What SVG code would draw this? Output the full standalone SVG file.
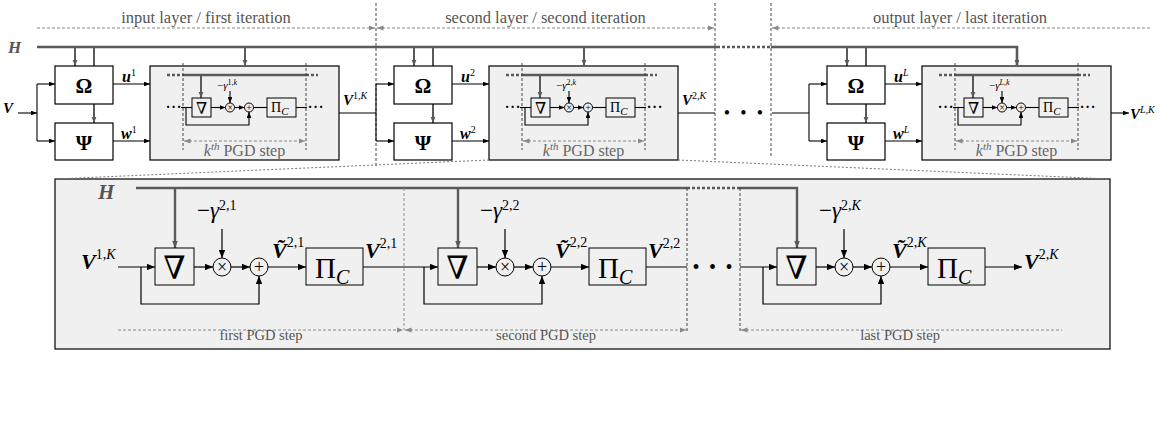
<svg xmlns="http://www.w3.org/2000/svg" width="1170" height="428" viewBox="0 0 1170 428">
<style>
.t{font-family:"Liberation Serif","DejaVu Serif",serif;fill:#000}
.g{fill:#555}
.gl{fill:#666}
.bi{font-weight:bold;font-style:italic}
.i{font-style:italic}
.n{font-weight:normal;font-style:normal}
.sym{font-family:"DejaVu Serif","Liberation Serif",serif;fill:#000}
.box{fill:#fff;stroke:#000;stroke-width:1.2}
.gb{fill:#f0f0f0;stroke:#000;stroke-width:1.2}
.ib{fill:#f0f0f0;stroke:#000;stroke-width:1}
.l{fill:none;stroke:#000;stroke-width:1.1}
.a{fill:none;stroke:#000;stroke-width:1.1;marker-end:url(#ah)}
.ab{fill:none;stroke:#000;stroke-width:1.2;marker-end:url(#ahb)}
.h{fill:none;stroke:#5a5a5a;stroke-width:2.6}
.hd{fill:none;stroke:#5a5a5a;stroke-width:2.6;stroke-dasharray:3 2}
.ha{fill:none;stroke:#5a5a5a;stroke-width:2;marker-end:url(#ahg)}
.hab{fill:none;stroke:#5a5a5a;stroke-width:2.4;marker-end:url(#ahgb)}
.hl{fill:none;stroke:#5a5a5a;stroke-width:2}
.dv{fill:none;stroke:#333;stroke-width:0.9;stroke-dasharray:3 2}
.dl{fill:none;stroke:#888;stroke-width:0.9;stroke-dasharray:3 2}
.da{fill:none;stroke:#888;stroke-width:1;stroke-dasharray:3 2}
.de{marker-end:url(#ahl)}
.ds{marker-start:url(#ahl)}
.dot{fill:none;stroke:#777;stroke-width:1;stroke-dasharray:2 2}
</style>
<defs>
<marker id="ah" viewBox="0 0 10 8" refX="10" refY="4" markerWidth="6" markerHeight="4.8" markerUnits="userSpaceOnUse" orient="auto-start-reverse"><path d="M0,0L10,4L0,8z" fill="#000"/></marker>
<marker id="ahb" viewBox="0 0 10 8" refX="10" refY="4" markerWidth="8" markerHeight="6.4" markerUnits="userSpaceOnUse" orient="auto-start-reverse"><path d="M0,0L10,4L0,8z" fill="#000"/></marker>
<marker id="ahg" viewBox="0 0 10 8" refX="10" refY="4" markerWidth="6.5" markerHeight="5.2" markerUnits="userSpaceOnUse" orient="auto-start-reverse"><path d="M0,0L10,4L0,8z" fill="#5a5a5a"/></marker>
<marker id="ahgb" viewBox="0 0 10 8" refX="10" refY="4" markerWidth="7" markerHeight="5.6" markerUnits="userSpaceOnUse" orient="auto-start-reverse"><path d="M0,0L10,4L0,8z" fill="#5a5a5a"/></marker>
<marker id="ahl" viewBox="0 0 10 8" refX="10" refY="4" markerWidth="6.5" markerHeight="5.2" markerUnits="userSpaceOnUse" orient="auto-start-reverse"><path d="M0,0L10,4L0,8z" fill="#888"/></marker>
</defs>

<g id="titles">
<text class="t g" x="206" y="23" font-size="16.5" text-anchor="middle">input layer / first iteration</text>
<text class="t g" x="545.5" y="23" font-size="16.5" text-anchor="middle">second layer / second iteration</text>
<text class="t g" x="960" y="23" font-size="16.5" text-anchor="middle">output layer / last iteration</text>
</g>

<g id="pgd1"><rect class="gb" x="150" y="66" width="189" height="94"/></g>
<g id="pgd2"><rect class="gb" x="489" y="66" width="189" height="94"/></g>
<g id="pgd3"><rect class="gb" x="922" y="66" width="189" height="94"/></g>
<g id="zoom-box"><rect class="gb" x="55" y="179" width="1055" height="170"/></g>

<g id="connectors">
<path class="dv" d="M376,3V166"/>
<path class="dv" d="M715,3V160"/>
<path class="dv" d="M771,3V158"/>
<path class="da de" d="M37,28H375"/>
<path class="da ds de" d="M377,28H714"/>
<path class="da ds" d="M772,28H1150"/>
<path class="h" d="M37,47H717"/>
<path class="hd" d="M717,47H771"/>
<path class="ha" style="stroke-width:2.6" d="M771,47H1017V66"/>
<path class="a" d="M18,113H37"/>
<path class="l" d="M37,84V141"/>
<path class="a" d="M37,84H55"/>
<path class="a" d="M37,141H55"/>
<path class="a" d="M113,84H150"/>
<path class="a" d="M113,141H150"/>
<path class="ha" d="M75,47V66"/>
<path class="hl" d="M94,47V66"/>
<path class="ha" d="M94,104V123"/>
<path class="ha" d="M245,47V66"/>
<path class="l" d="M181,107.5H192"/>
<path class="a" d="M186,107.5V125H249V112"/>
<path class="a" d="M211,107.5H225.5"/>
<path class="a" d="M230,91V103"/>
<path class="a" d="M234.5,107.5H244.5"/>
<path class="l" d="M253.5,107.5H267"/>
<path class="l" d="M296,107.5H307"/>
<path class="h" style="stroke-width:2.4" d="M183,75H306"/>
<path class="hd" style="stroke-width:2.4" d="M167,75H183M306,75H318"/>
<path class="ha" d="M201,75V98"/>
<path class="dv" d="M183,63V150M306,63V150"/>
<path class="da ds de" d="M184,141H305"/>
<path class="l" d="M339,113H376"/>
<path class="l" d="M376,84V141"/>
<path class="a" d="M376,84H394"/>
<path class="a" d="M376,141H394"/>
<path class="a" d="M452,84H489"/>
<path class="a" d="M452,141H489"/>
<path class="ha" d="M414,47V66"/>
<path class="hl" d="M433,47V66"/>
<path class="ha" d="M433,104V123"/>
<path class="ha" d="M584,47V66"/>
<path class="l" d="M520,107.5H531"/>
<path class="a" d="M525,107.5V125H588V112"/>
<path class="a" d="M550,107.5H564.5"/>
<path class="a" d="M569,91V103"/>
<path class="a" d="M573.5,107.5H583.5"/>
<path class="l" d="M592.5,107.5H606"/>
<path class="l" d="M635,107.5H646"/>
<path class="h" style="stroke-width:2.4" d="M522,75H645"/>
<path class="hd" style="stroke-width:2.4" d="M506,75H522M645,75H657"/>
<path class="ha" d="M540,75V98"/>
<path class="dv" d="M522,63V150M645,63V150"/>
<path class="da ds de" d="M523,141H644"/>
<path class="l" d="M678,113H715"/>
<path class="l" d="M772,113H809"/>
<path class="l" d="M809,84V141"/>
<path class="a" d="M809,84H827"/>
<path class="a" d="M809,141H827"/>
<path class="a" d="M885,84H922"/>
<path class="a" d="M885,141H922"/>
<path class="ha" d="M847,47V66"/>
<path class="hl" d="M866,47V66"/>
<path class="ha" d="M866,104V123"/>
<path class="l" d="M953,107.5H964"/>
<path class="a" d="M958,107.5V125H1021V112"/>
<path class="a" d="M983,107.5H997.5"/>
<path class="a" d="M1002,91V103"/>
<path class="a" d="M1006.5,107.5H1016.5"/>
<path class="l" d="M1025.5,107.5H1039"/>
<path class="l" d="M1068,107.5H1079"/>
<path class="h" style="stroke-width:2.4" d="M955,75H1078"/>
<path class="hd" style="stroke-width:2.4" d="M939,75H955M1078,75H1090"/>
<path class="ha" d="M973,75V98"/>
<path class="dv" d="M955,63V150M1078,63V150"/>
<path class="da ds de" d="M956,141H1077"/>
<path class="a" d="M1111,113H1129"/>
<path class="dot" d="M489,160L55,179"/>
<path class="dot" d="M678,160L1110,179"/>
<path class="h" d="M136,188H687"/>
<path class="hd" d="M687,188H740"/>
<path class="hab" d="M740,188H797V248"/>
<path class="hab" d="M175,188V248"/>
<path class="hab" d="M458,188V248"/>
<path class="dl" d="M404,188V330"/>
<path class="dv" d="M687,188V332"/>
<path class="dv" d="M740,188V332"/>
<path class="da de" d="M118,330H403"/>
<path class="da ds de" d="M405,330H686"/>
<path class="da ds" d="M741,330H1062"/>
<path class="ab" d="M118,267H155"/>
<path class="ab" d="M141,267V304H259V276"/>
<path class="ab" d="M194,267H213"/>
<path class="ab" d="M222,229V258"/>
<path class="ab" d="M231,267H250"/>
<path class="ab" d="M268,267H306"/>
<path class="ab" d="M363,267H438"/>
<path class="ab" d="M424,267V304H542V276"/>
<path class="ab" d="M477,267H496"/>
<path class="ab" d="M505,229V258"/>
<path class="ab" d="M514,267H533"/>
<path class="ab" d="M551,267H589"/>
<path class="l" style="stroke-width:1.2" d="M646,267H687"/>
<path class="ab" d="M740,267H777"/>
<path class="ab" d="M763,267V304H881V276"/>
<path class="ab" d="M816,267H835"/>
<path class="ab" d="M844,229V258"/>
<path class="ab" d="M853,267H872"/>
<path class="ab" d="M890,267H928"/>
<path class="ab" d="M985,267H1022"/>
</g>

<g id="label-H"><text class="t bi g" x="8" y="53" font-size="17">H</text></g>
<g id="label-V"><text class="t bi" x="3" y="113" font-size="15">V</text></g>

<g id="omega1"><rect class="box" x="55" y="66" width="58" height="38"/><text class="t" x="84" y="93" font-size="21" font-weight="bold" text-anchor="middle">Ω</text></g>
<g id="psi1"><rect class="box" x="55" y="123" width="58" height="37"/><text class="t" x="84" y="150" font-size="21" font-weight="bold" text-anchor="middle">Ψ</text></g>
<g id="u1"><text class="t bi" x="122" y="82" font-size="16">u<tspan class="n" font-size="10" dy="-6">1</tspan></text></g>
<g id="w1"><text class="t bi" x="121" y="139" font-size="16">w<tspan class="n" font-size="10" dy="-6">1</tspan></text></g>
<g id="grad1"><rect class="ib" x="192" y="98" width="19" height="19"/><text class="sym" x="201.5" y="114" font-size="16" text-anchor="middle">∇</text></g>
<g id="mul1"><circle class="ib" cx="230" cy="107.5" r="4.5"/><text class="t" x="230" y="107.5" font-size="10" text-anchor="middle" dominant-baseline="central">×</text></g>
<g id="add1"><circle class="ib" cx="249" cy="107.5" r="4.5"/><text class="t" x="249" y="107.5" font-size="10" text-anchor="middle" dominant-baseline="central">+</text></g>
<g id="proj1"><rect class="ib" x="267" y="98" width="29" height="19"/><text class="t" x="271" y="112" font-size="14">Π<tspan class="i" font-size="11" dy="3">C</tspan></text></g>
<g id="gamma1"><text class="t" x="217" y="89" font-size="11">−<tspan class="i">γ</tspan><tspan font-size="8" dy="-4">1,<tspan class="i">k</tspan></tspan></text></g>
<g id="dots1"><text class="t" x="168 173.5 179" y="111.5" font-size="14" font-weight="bold" text-anchor="middle">···</text><text class="t" x="310 315.5 321" y="111.5" font-size="14" font-weight="bold" text-anchor="middle">···</text></g>
<g id="kth1"><text class="t gl" x="244.5" y="156" font-size="16" text-anchor="middle"><tspan class="i">k</tspan><tspan class="i" font-size="11" dy="-6">th</tspan><tspan dy="6"> PGD step</tspan></text></g>
<g id="v1K"><text class="t bi" x="343" y="105" font-size="15">V<tspan class="n" font-size="10" dy="-6">1,<tspan class="i">K</tspan></tspan></text></g>

<g id="omega2"><rect class="box" x="394" y="66" width="58" height="38"/><text class="t" x="423" y="93" font-size="21" font-weight="bold" text-anchor="middle">Ω</text></g>
<g id="psi2"><rect class="box" x="394" y="123" width="58" height="37"/><text class="t" x="423" y="150" font-size="21" font-weight="bold" text-anchor="middle">Ψ</text></g>
<g id="u2"><text class="t bi" x="461" y="82" font-size="16">u<tspan class="n" font-size="10" dy="-6">2</tspan></text></g>
<g id="w2"><text class="t bi" x="460" y="139" font-size="16">w<tspan class="n" font-size="10" dy="-6">2</tspan></text></g>
<g id="grad2"><rect class="ib" x="531" y="98" width="19" height="19"/><text class="sym" x="540.5" y="114" font-size="16" text-anchor="middle">∇</text></g>
<g id="mul2"><circle class="ib" cx="569" cy="107.5" r="4.5"/><text class="t" x="569" y="107.5" font-size="10" text-anchor="middle" dominant-baseline="central">×</text></g>
<g id="add2"><circle class="ib" cx="588" cy="107.5" r="4.5"/><text class="t" x="588" y="107.5" font-size="10" text-anchor="middle" dominant-baseline="central">+</text></g>
<g id="proj2"><rect class="ib" x="606" y="98" width="29" height="19"/><text class="t" x="610" y="112" font-size="14">Π<tspan class="i" font-size="11" dy="3">C</tspan></text></g>
<g id="gamma2"><text class="t" x="556" y="89" font-size="11">−<tspan class="i">γ</tspan><tspan font-size="8" dy="-4">2,<tspan class="i">k</tspan></tspan></text></g>
<g id="dots2"><text class="t" x="507 512.5 518" y="111.5" font-size="14" font-weight="bold" text-anchor="middle">···</text><text class="t" x="649 654.5 660" y="111.5" font-size="14" font-weight="bold" text-anchor="middle">···</text></g>
<g id="kth2"><text class="t gl" x="583.5" y="156" font-size="16" text-anchor="middle"><tspan class="i">k</tspan><tspan class="i" font-size="11" dy="-6">th</tspan><tspan dy="6"> PGD step</tspan></text></g>
<g id="v2K"><text class="t bi" x="682" y="105" font-size="15">V<tspan class="n" font-size="10" dy="-6">2,<tspan class="i">K</tspan></tspan></text></g>
<g id="layer-dots"><text class="t" x="727 743.5 760" y="119" font-size="18" text-anchor="middle">•••</text></g>

<g id="omega3"><rect class="box" x="827" y="66" width="58" height="38"/><text class="t" x="856" y="93" font-size="21" font-weight="bold" text-anchor="middle">Ω</text></g>
<g id="psi3"><rect class="box" x="827" y="123" width="58" height="37"/><text class="t" x="856" y="150" font-size="21" font-weight="bold" text-anchor="middle">Ψ</text></g>
<g id="u3"><text class="t bi" x="894" y="82" font-size="16">u<tspan font-size="10" font-weight="normal" dy="-6">L</tspan></text></g>
<g id="w3"><text class="t bi" x="893" y="139" font-size="16">w<tspan font-size="10" font-weight="normal" dy="-6">L</tspan></text></g>
<g id="grad3"><rect class="ib" x="964" y="98" width="19" height="19"/><text class="sym" x="973.5" y="114" font-size="16" text-anchor="middle">∇</text></g>
<g id="mul3"><circle class="ib" cx="1002" cy="107.5" r="4.5"/><text class="t" x="1002" y="107.5" font-size="10" text-anchor="middle" dominant-baseline="central">×</text></g>
<g id="add3"><circle class="ib" cx="1021" cy="107.5" r="4.5"/><text class="t" x="1021" y="107.5" font-size="10" text-anchor="middle" dominant-baseline="central">+</text></g>
<g id="proj3"><rect class="ib" x="1039" y="98" width="29" height="19"/><text class="t" x="1043" y="112" font-size="14">Π<tspan class="i" font-size="11" dy="3">C</tspan></text></g>
<g id="gamma3"><text class="t" x="989" y="89" font-size="11">−<tspan class="i">γ</tspan><tspan font-size="8" dy="-4"><tspan class="i">L</tspan>,<tspan class="i">k</tspan></tspan></text></g>
<g id="dots3"><text class="t" x="940 945.5 951" y="111.5" font-size="14" font-weight="bold" text-anchor="middle">···</text><text class="t" x="1082 1087.5 1093" y="111.5" font-size="14" font-weight="bold" text-anchor="middle">···</text></g>
<g id="kth3"><text class="t gl" x="1016.5" y="156" font-size="16" text-anchor="middle"><tspan class="i">k</tspan><tspan class="i" font-size="11" dy="-6">th</tspan><tspan dy="6"> PGD step</tspan></text></g>
<g id="vLK"><text class="t bi" x="1130" y="119" font-size="15">V<tspan font-size="10" font-weight="normal" dy="-6"><tspan>L</tspan>,<tspan>K</tspan></tspan></text></g>

<g id="label-H2"><text class="t bi g" x="98" y="199" font-size="21">H</text></g>
<g id="v1K-in"><text class="t bi" x="81" y="269" font-size="22">V<tspan class="n" font-size="14" dy="-10">1,<tspan class="i">K</tspan></tspan></text></g>

<g id="step1-grad"><rect class="ib" x="155" y="248" width="39" height="37"/><text class="sym" x="174.5" y="279" font-size="32" text-anchor="middle">∇</text></g>
<g id="step1-mul"><circle class="ib" cx="222" cy="267" r="9"/><text class="t" x="222" y="267" font-size="18" text-anchor="middle" dominant-baseline="central">×</text></g>
<g id="step1-add"><circle class="ib" cx="259" cy="267" r="9"/><text class="t" x="259" y="267" font-size="18" text-anchor="middle" dominant-baseline="central">+</text></g>
<g id="step1-proj"><rect class="ib" x="306" y="248" width="57" height="37"/><text class="t" x="315" y="278" font-size="29">Π<tspan class="i" font-size="20" dy="6">C</tspan></text></g>
<g id="step1-gamma"><text class="t" x="197" y="218" font-size="23">−<tspan class="i">γ</tspan><tspan font-size="14" dy="-8">2,1</tspan></text></g>
<g id="step1-vt"><text class="t bi" x="272" y="258" font-size="22">Ṽ<tspan class="n" font-size="14" dy="-11">2,1</tspan></text></g>
<g id="step1-out"><text class="t bi" x="365" y="258" font-size="22">V<tspan class="n" font-size="14" dy="-10">2,1</tspan></text></g>

<g id="step2-grad"><rect class="ib" x="438" y="248" width="39" height="37"/><text class="sym" x="457.5" y="279" font-size="32" text-anchor="middle">∇</text></g>
<g id="step2-mul"><circle class="ib" cx="505" cy="267" r="9"/><text class="t" x="505" y="267" font-size="18" text-anchor="middle" dominant-baseline="central">×</text></g>
<g id="step2-add"><circle class="ib" cx="542" cy="267" r="9"/><text class="t" x="542" y="267" font-size="18" text-anchor="middle" dominant-baseline="central">+</text></g>
<g id="step2-proj"><rect class="ib" x="589" y="248" width="57" height="37"/><text class="t" x="598" y="278" font-size="29">Π<tspan class="i" font-size="20" dy="6">C</tspan></text></g>
<g id="step2-gamma"><text class="t" x="480" y="218" font-size="23">−<tspan class="i">γ</tspan><tspan font-size="14" dy="-8">2,2</tspan></text></g>
<g id="step2-vt"><text class="t bi" x="555" y="258" font-size="22">Ṽ<tspan class="n" font-size="14" dy="-11">2,2</tspan></text></g>
<g id="step2-out"><text class="t bi" x="648" y="258" font-size="22">V<tspan class="n" font-size="14" dy="-10">2,2</tspan></text></g>
<g id="step-dots"><text class="t" x="696 712.5 729" y="274" font-size="20" text-anchor="middle">•••</text></g>

<g id="step3-grad"><rect class="ib" x="777" y="248" width="39" height="37"/><text class="sym" x="796.5" y="279" font-size="32" text-anchor="middle">∇</text></g>
<g id="step3-mul"><circle class="ib" cx="844" cy="267" r="9"/><text class="t" x="844" y="267" font-size="18" text-anchor="middle" dominant-baseline="central">×</text></g>
<g id="step3-add"><circle class="ib" cx="881" cy="267" r="9"/><text class="t" x="881" y="267" font-size="18" text-anchor="middle" dominant-baseline="central">+</text></g>
<g id="step3-proj"><rect class="ib" x="928" y="248" width="57" height="37"/><text class="t" x="937" y="278" font-size="29">Π<tspan class="i" font-size="20" dy="6">C</tspan></text></g>
<g id="step3-gamma"><text class="t" x="819" y="218" font-size="23">−<tspan class="i">γ</tspan><tspan font-size="14" dy="-8">2,<tspan class="i">K</tspan></tspan></text></g>
<g id="step3-vt"><text class="t bi" x="892" y="258" font-size="22">Ṽ<tspan class="n" font-size="14" dy="-11">2,<tspan class="i">K</tspan></tspan></text></g>
<g id="step3-out"><text class="t bi" x="1024" y="269" font-size="22">V<tspan class="n" font-size="14" dy="-10">2,<tspan class="i">K</tspan></tspan></text></g>

<g id="step-labels">
<text class="t g" x="261" y="340" font-size="14.5" text-anchor="middle">first PGD step</text>
<text class="t g" x="546" y="340" font-size="14.5" text-anchor="middle">second PGD step</text>
<text class="t g" x="900" y="340" font-size="14.5" text-anchor="middle">last PGD step</text>
</g>
</svg>
